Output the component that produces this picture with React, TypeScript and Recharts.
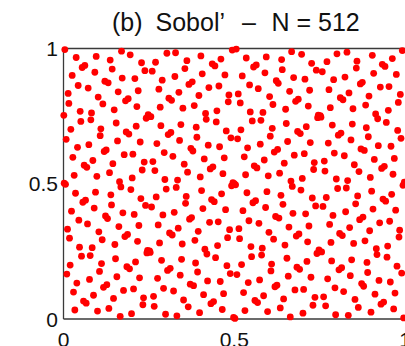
import React from 'react';
import { ScatterChart, Scatter, XAxis, YAxis, ReferenceLine } from 'recharts';

// first 512 points of the 2-D Sobol' sequence, in units of 1/512
const sobolPoints: [number, number][] = [
  [0.5, 385.5],
  [1, 257], [2, 510], [3, 255], [4, 340], [5, 85], [6, 170], [7, 427], [8, 408], [9, 153], [10, 102], [11, 359], [12, 204], [13, 461], [14, 306], [15, 51],
  [16, 272], [17, 17], [18, 238], [19, 495], [20, 68], [21, 325], [22, 442], [23, 187], [24, 136], [25, 393], [26, 374], [27, 119], [28, 476], [29, 221], [30, 34], [31, 291],
  [32, 480], [33, 225], [34, 30], [35, 287], [36, 180], [37, 437], [38, 330], [39, 75], [40, 120], [41, 377], [42, 390], [43, 135], [44, 300], [45, 45], [46, 210], [47, 467],
  [48, 240], [49, 497], [50, 270], [51, 15], [52, 420], [53, 165], [54, 90], [55, 347], [56, 360], [57, 105], [58, 150], [59, 407], [60, 60], [61, 317], [62, 450], [63, 195],
  [64, 320], [65, 65], [66, 190], [67, 447], [68, 20], [69, 277], [70, 490], [71, 235], [72, 216], [73, 473], [74, 294], [75, 39], [76, 396], [77, 141], [78, 114], [79, 371],
  [80, 80], [81, 337], [82, 430], [83, 175], [84, 260], [85, 5], [86, 250], [87, 507], [88, 456], [89, 201], [90, 54], [91, 311], [92, 156], [93, 413], [94, 354], [95, 99],
  [96, 160], [97, 417], [98, 350], [99, 95], [100, 500], [101, 245], [102, 10], [103, 267], [104, 312], [105, 57], [106, 198], [107, 455], [108, 108], [109, 365], [110, 402], [111, 147],
  [112, 432], [113, 177], [114, 78], [115, 335], [116, 228], [117, 485], [118, 282], [119, 27], [120, 40], [121, 297], [122, 470], [123, 215], [124, 380], [125, 125], [126, 130], [127, 387],
  [128, 384], [129, 129], [130, 126], [131, 383], [132, 212], [133, 469], [134, 298], [135, 43], [136, 24], [137, 281], [138, 486], [139, 231], [140, 332], [141, 77], [142, 178], [143, 435],
  [144, 144], [145, 401], [146, 366], [147, 111], [148, 452], [149, 197], [150, 58], [151, 315], [152, 264], [153, 9], [154, 246], [155, 503], [156, 92], [157, 349], [158, 418], [159, 163],
  [160, 96], [161, 353], [162, 414], [163, 159], [164, 308], [165, 53], [166, 202], [167, 459], [168, 504], [169, 249], [170, 6], [171, 263], [172, 172], [173, 429], [174, 338], [175, 83],
  [176, 368], [177, 113], [178, 142], [179, 399], [180, 36], [181, 293], [182, 474], [183, 219], [184, 232], [185, 489], [186, 278], [187, 23], [188, 444], [189, 189], [190, 66], [191, 323],
  [192, 192], [193, 449], [194, 318], [195, 63], [196, 404], [197, 149], [198, 106], [199, 363], [200, 344], [201, 89], [202, 166], [203, 423], [204, 12], [205, 269], [206, 498], [207, 243],
  [208, 464], [209, 209], [210, 46], [211, 303], [212, 132], [213, 389], [214, 378], [215, 123], [216, 72], [217, 329], [218, 438], [219, 183], [220, 284], [221, 29], [222, 226], [223, 483],
  [224, 288], [225, 33], [226, 222], [227, 479], [228, 116], [229, 373], [230, 394], [231, 139], [232, 184], [233, 441], [234, 326], [235, 71], [236, 492], [237, 237], [238, 18], [239, 275],
  [240, 48], [241, 305], [242, 462], [243, 207], [244, 356], [245, 101], [246, 154], [247, 411], [248, 424], [249, 169], [250, 86], [251, 343], [252, 252], [253, 509], [254, 258], [255, 3],
  [256, 256], [257, 1], [258, 254], [259, 511], [260, 84], [261, 341], [262, 426], [263, 171], [264, 152], [265, 409], [266, 358], [267, 103], [268, 460], [269, 205], [270, 50], [271, 307],
  [272, 16], [273, 273], [274, 494], [275, 239], [276, 324], [277, 69], [278, 186], [279, 443], [280, 392], [281, 137], [282, 118], [283, 375], [284, 220], [285, 477], [286, 290], [287, 35],
  [288, 224], [289, 481], [290, 286], [291, 31], [292, 436], [293, 181], [294, 74], [295, 331], [296, 376], [297, 121], [298, 134], [299, 391], [300, 44], [301, 301], [302, 466], [303, 211],
  [304, 496], [305, 241], [306, 14], [307, 271], [308, 164], [309, 421], [310, 346], [311, 91], [312, 104], [313, 361], [314, 406], [315, 151], [316, 316], [317, 61], [318, 194], [319, 451],
  [320, 64], [321, 321], [322, 446], [323, 191], [324, 276], [325, 21], [326, 234], [327, 491], [328, 472], [329, 217], [330, 38], [331, 295], [332, 140], [333, 397], [334, 370], [335, 115],
  [336, 336], [337, 81], [338, 174], [339, 431], [340, 4], [341, 261], [342, 506], [343, 251], [344, 200], [345, 457], [346, 310], [347, 55], [348, 412], [349, 157], [350, 98], [351, 355],
  [352, 416], [353, 161], [354, 94], [355, 351], [356, 244], [357, 501], [358, 266], [359, 11], [360, 56], [361, 313], [362, 454], [363, 199], [364, 364], [365, 109], [366, 146], [367, 403],
  [368, 176], [369, 433], [370, 334], [371, 79], [372, 484], [373, 229], [374, 26], [375, 283], [376, 296], [377, 41], [378, 214], [379, 471], [380, 124], [381, 381], [382, 386], [383, 131],
  [384, 128], [385, 385], [386, 382], [387, 127], [388, 468], [389, 213], [390, 42], [391, 299], [392, 280], [393, 25], [394, 230], [395, 487], [396, 76], [397, 333], [398, 434], [399, 179],
  [400, 400], [401, 145], [402, 110], [403, 367], [404, 196], [405, 453], [406, 314], [407, 59], [408, 8], [409, 265], [410, 502], [411, 247], [412, 348], [413, 93], [414, 162], [415, 419],
  [416, 352], [417, 97], [418, 158], [419, 415], [420, 52], [421, 309], [422, 458], [423, 203], [424, 248], [425, 505], [426, 262], [427, 7], [428, 428], [429, 173], [430, 82], [431, 339],
  [432, 112], [433, 369], [434, 398], [435, 143], [436, 292], [437, 37], [438, 218], [439, 475], [440, 488], [441, 233], [442, 22], [443, 279], [444, 188], [445, 445], [446, 322], [447, 67],
  [448, 448], [449, 193], [450, 62], [451, 319], [452, 148], [453, 405], [454, 362], [455, 107], [456, 88], [457, 345], [458, 422], [459, 167], [460, 268], [461, 13], [462, 242], [463, 499],
  [464, 208], [465, 465], [466, 302], [467, 47], [468, 388], [469, 133], [470, 122], [471, 379], [472, 328], [473, 73], [474, 182], [475, 439], [476, 28], [477, 285], [478, 482], [479, 227],
  [480, 32], [481, 289], [482, 478], [483, 223], [484, 372], [485, 117], [486, 138], [487, 395], [488, 440], [489, 185], [490, 70], [491, 327], [492, 236], [493, 493], [494, 274], [495, 19],
  [496, 304], [497, 49], [498, 206], [499, 463], [500, 100], [501, 357], [502, 410], [503, 155], [504, 168], [505, 425], [506, 342], [507, 87], [508, 508], [509, 253], [510, 2], [511, 259],
];
const GRID = 512;

const xTicks = [0, 0.5, 1];
const xTickLabels = ['0', '0.5', '1'];
const yTicks = [0, 0.5, 1];
const yTickLabels = ['0', '0.5', '1'];

const titleParts = [
  { text: '(b)', x: 112 },
  { text: 'Sobol’', x: 155.5 },
  { text: '–', x: 242 },
  { text: 'N = 512', x: 271.5 },
];

const FONT = '"Liberation Sans", Arial, Helvetica, sans-serif';
const AXIS = '#3a3a3a';

const points = sobolPoints.map(([i, j]) => ({ x: i / GRID, y: j / GRID }));

const RedDot = (props: any) => (
  <circle cx={props.cx} cy={props.cy} r={3.4} fill="#ff0000" />
);

const XTick = ({ x, y, payload }: any) => (
  <text x={x} y={y + 28} textAnchor="middle" fontSize={21} fontFamily={FONT} fill="#111">
    {xTickLabels[xTicks.indexOf(payload.value)]}
  </text>
);

const YTick = ({ x, y, payload }: any) => (
  <text x={x} y={y + 7.5} textAnchor="end" fontSize={21} fontFamily={FONT} fill="#111">
    {yTickLabels[yTicks.indexOf(payload.value)]}
  </text>
);

export default function App() {
  return (
    <div style={{ position: 'fixed', left: 0, top: 0, width: 405, height: 346, background: '#fff' }}>
      <svg width={405} height={40} style={{ position: 'absolute', left: 0, top: 0 }}>
        {titleParts.map((p) => (
          <text key={p.text} x={p.x} y={30.5} fontSize={25} fontFamily={FONT} fill="#111">
            {p.text}
          </text>
        ))}
      </svg>
      <ScatterChart
        width={405}
        height={346}
        margin={{ top: 48.5, right: 0, bottom: 0, left: 0 }}
      >
        <XAxis
          type="number"
          dataKey="x"
          domain={[0, 1]}
          ticks={xTicks}
          interval={0}
          height={27}
          tickSize={0}
          tickMargin={0}
          tickLine={false}
          axisLine={{ stroke: AXIS, strokeWidth: 1.3 }}
          tick={<XTick />}
        />
        <YAxis
          type="number"
          dataKey="y"
          domain={[0, 1]}
          ticks={yTicks}
          interval={0}
          width={63.5}
          tickSize={0}
          tickMargin={5.5}
          tickLine={false}
          axisLine={{ stroke: AXIS, strokeWidth: 1.3 }}
          tick={<YTick />}
        />
        <ReferenceLine y={1} stroke={AXIS} strokeWidth={1.3} />
        <Scatter data={points} shape={<RedDot />} isAnimationActive={false} />
      </ScatterChart>
    </div>
  );
}
